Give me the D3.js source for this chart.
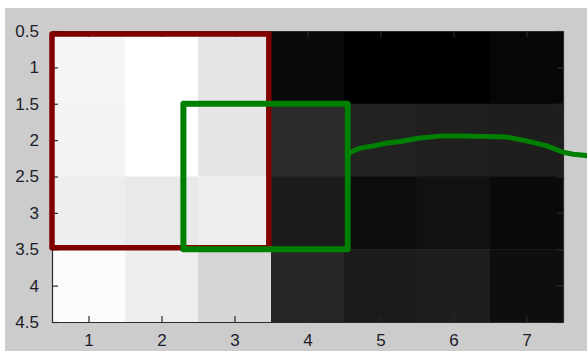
<!DOCTYPE html>
<html>
<head>
<meta charset="utf-8">
<script src="https://cdn.jsdelivr.net/npm/d3@7"></script>
<style>
    body { margin: 0; background: #ffffff; }
    #chart { width: 587px; height: 351px; }
    .axis text { font-family: "Liberation Sans Narrow", "Liberation Sans", Arial, sans-serif; font-size: 17px; fill: #1c1c28; }
</style>
</head>
<body>
<div id="chart"></div>
<script>

// image columns / rows (tick values)
let xTicks = [1, 2, 3, 4, 5, 6, 7];
let yTicks = [0.5, 1, 1.5, 2, 2.5, 3, 3.5, 4, 4.5];
let yTickLabels = ["0.5", "1", "1.5", "2", "2.5", "3", "3.5", "4", "4.5"];

// gray levels of the image cells (0 = black, 255 = white), row by row
let cellRows = [
    [245, 255, 229, 10, 0, 0, 6],
    [243, 255, 230, 42, 34, 31, 30],
    [238, 233, 239, 28, 13, 17, 10],
    [251, 238, 214, 38, 27, 30, 14]
];

// rectangles in data units
let redBoxX = [0.5, 3.47];
let redBoxY = [0.54, 3.48];
let greenBoxX = [2.3, 4.55];
let greenBoxY = [1.5, 3.5];

// green curve
let curveX = [4.55, 4.6, 4.72, 4.9, 5.09, 5.27, 5.54, 5.82, 6.09, 6.45, 6.73, 7.0, 7.28, 7.5, 7.64, 7.84];
let curveY = [2.2, 2.16, 2.11, 2.08, 2.04, 2.02, 1.97, 1.945, 1.945, 1.95, 1.957, 2.01, 2.08, 2.167, 2.195, 2.214];


class ImageVis {

    constructor(parentElement) {
        this.parentElement = parentElement;
        this.initVis();
    }

    initVis() {
        let vis = this;

        vis.margin = {top: 31, right: 24, bottom: 29, left: 52};
        vis.width = 587 - vis.margin.left - vis.margin.right;
        vis.height = 351 - vis.margin.top - vis.margin.bottom;

        vis.root = d3.select("#" + vis.parentElement).append("svg")
            .attr("width", 587)
            .attr("height", 351);

        // figure background
        vis.root.append("rect")
            .attr("x", 5)
            .attr("y", 8)
            .attr("width", 582)
            .attr("height", 343)
            .attr("fill", "#cccccc");

        vis.svg = vis.root.append("g")
            .attr("transform", "translate(" + vis.margin.left + "," + vis.margin.top + ")");

        vis.x = d3.scaleLinear().domain([0.5, 7.5]).range([0, vis.width]);
        vis.y = d3.scaleLinear().domain([0.5, 4.5]).range([0, vis.height]);
        vis.gray = d3.scaleLinear().domain([0, 255]).range(["#000000", "#ffffff"]);

        vis.wrangleData();
    }

    wrangleData() {
        let vis = this;

        vis.cells = [];
        cellRows.forEach((row, i) => {
            row.forEach((v, j) => {
                vis.cells.push({col: xTicks[j], row: i + 1, value: v});
            });
        });

        vis.curve = curveX.map((d, i) => [d, curveY[i]]);

        vis.updateVis();
    }

    updateVis() {
        let vis = this;

        // image cells
        vis.svg.selectAll(".cell")
            .data(vis.cells)
            .enter()
            .append("rect")
            .attr("class", "cell")
            .attr("x", d => vis.x(d.col - 0.5))
            .attr("y", d => vis.y(d.row - 0.5))
            .attr("width", d => vis.x(d.col + 0.5) - vis.x(d.col - 0.5) + 0.5)
            .attr("height", d => vis.y(d.row + 0.5) - vis.y(d.row - 0.5) + 0.5)
            .attr("fill", d => vis.gray(d.value));

        // axes, ticks inward on all four sides
        let axisColor = "#2a2a2a";
        let axes = [
            {axis: d3.axisBottom(vis.x).tickValues(xTicks).tickFormat(d3.format("d")), t: [0, vis.height], labels: true, pad: 12},
            {axis: d3.axisTop(vis.x).tickValues(xTicks), t: [0, 0], labels: false, pad: 3},
            {axis: d3.axisLeft(vis.y).tickValues(yTicks).tickFormat((d, i) => yTickLabels[i]), t: [0, 0], labels: true, pad: 13},
            {axis: d3.axisRight(vis.y).tickValues(yTicks), t: [vis.width, 0], labels: false, pad: 3}
        ];

        axes.forEach(a => {
            let g = vis.svg.append("g")
                .attr("class", "axis")
                .attr("transform", `translate(${a.t[0]}, ${a.t[1]})`)
                .call(a.axis.tickSizeInner(-6).tickSizeOuter(0).tickPadding(a.pad));
            g.select(".domain").attr("stroke", axisColor).attr("stroke-width", 1.2);
            g.selectAll(".tick line").attr("stroke", axisColor).attr("stroke-width", 1.2);
            if (!a.labels) g.selectAll(".tick text").remove();
        });

        vis.svg.selectAll(".axis text").attr("fill", "#1c1c28").attr("font-size", null).attr("font-family", null);

        // red box
        vis.svg.append("rect")
            .attr("x", vis.x(redBoxX[0]))
            .attr("y", vis.y(redBoxY[0]))
            .attr("width", vis.x(redBoxX[1]) - vis.x(redBoxX[0]))
            .attr("height", vis.y(redBoxY[1]) - vis.y(redBoxY[0]))
            .attr("fill", "none")
            .attr("stroke", "#800000")
            .attr("stroke-width", 5.5)
            .attr("stroke-linejoin", "round");

        // green box
        vis.svg.append("rect")
            .attr("x", vis.x(greenBoxX[0]))
            .attr("y", vis.y(greenBoxY[0]))
            .attr("width", vis.x(greenBoxX[1]) - vis.x(greenBoxX[0]))
            .attr("height", vis.y(greenBoxY[1]) - vis.y(greenBoxY[0]))
            .attr("fill", "none")
            .attr("stroke", "#008000")
            .attr("stroke-width", 6)
            .attr("stroke-linejoin", "round");

        // green curve
        let line = d3.line()
            .x(d => vis.x(d[0]))
            .y(d => vis.y(d[1]));

        vis.svg.append("path")
            .datum(vis.curve)
            .attr("d", line)
            .attr("fill", "none")
            .attr("stroke", "#008000")
            .attr("stroke-width", 5)
            .attr("stroke-linejoin", "round")
            .attr("stroke-linecap", "round");
    }
}

let imageVis = new ImageVis("chart");

</script>
</body>
</html>
